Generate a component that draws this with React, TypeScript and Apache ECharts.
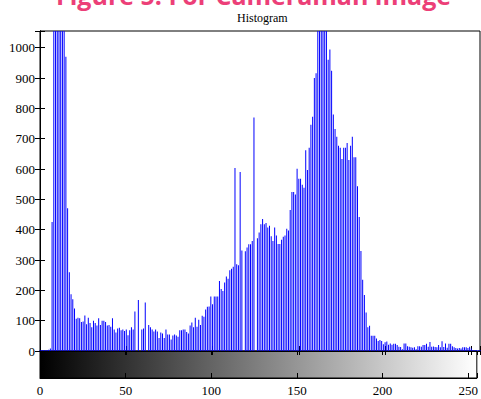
import React, { useEffect, useRef } from "react";
import * as echarts from "echarts";

// Gray-level histogram of the Cameraman image: pixel count per intensity 0..255
const grayLevels: number[] = Array.from({ length: 256 }, (_, i) => i);
const pixelCounts: number[] = [
  // 0-9
  3, 3, 3, 3, 3, 4, 8, 425, 1280, 1850,
  // 10-19
  2400, 2100, 1700, 1400, 1150, 970, 471, 260, 187, 171,
  // 20-29
  140, 106, 110, 108, 96, 97, 117, 88, 110, 92,
  // 30-39
  78, 100, 92, 84, 108, 86, 100, 100, 96, 84,
  // 40-49
  86, 80, 108, 71, 61, 74, 77, 68, 71, 66,
  // 50-59
  71, 52, 68, 78, 71, 130, 0, 168, 0, 71,
  // 60-69
  74, 160, 0, 86, 78, 71, 64, 71, 64, 43,
  // 70-79
  61, 58, 43, 71, 54, 54, 38, 51, 54, 51,
  // 80-89
  47, 68, 68, 71, 71, 63, 58, 84, 94, 78,
  // 90-99
  110, 80, 103, 86, 116, 113, 137, 146, 147, 180,
  // 100-109
  154, 180, 180, 180, 231, 204, 198, 226, 246, 238,
  // 110-119
  266, 271, 278, 603, 286, 283, 590, 331, 0, 329,
  // 120-129
  341, 352, 352, 363, 770, 0, 372, 391, 418, 435,
  // 130-139
  418, 422, 407, 413, 378, 363, 407, 381, 353, 353,
  // 140-149
  367, 377, 381, 403, 397, 465, 524, 524, 516, 601,
  // 150-159
  568, 568, 548, 538, 662, 597, 670, 746, 772, 900,
  // 160-169
  916, 1120, 1240, 1300, 1210, 1150, 1080, 960, 994, 924,
  // 170-179
  780, 732, 706, 677, 670, 633, 670, 670, 686, 630,
  // 180-189
  677, 706, 639, 639, 543, 442, 330, 235, 185, 127,
  // 190-199
  78, 83, 50, 50, 50, 41, 33, 36, 33, 22,
  // 200-209
  29, 31, 21, 25, 21, 24, 24, 20, 14, 13,
  // 210-219
  6, 25, 25, 16, 14, 12, 11, 12, 6, 16,
  // 220-229
  16, 14, 20, 20, 24, 14, 30, 14, 15, 13,
  // 230-239
  12, 20, 12, 32, 13, 25, 11, 24, 24, 16,
  // 240-249
  12, 10, 8, 10, 8, 12, 12, 12, 10, 14,
  // 250-255
  8, 3, 3, 3, 3, 3,
];

const xTickStep = 50;
const yTickStep = 100;
const xMax = 255;
const yMax = 1055;

const chartTitle = "Figure 5. For Cameraman image";
const plotTitle = "Histogram";

const serif = "'Liberation Serif', 'Times New Roman', serif";

export default function App() {
  const ref = useRef<HTMLDivElement>(null);

  useEffect(() => {
    if (!ref.current) return;
    const chart = echarts.init(ref.current, undefined, { renderer: "svg" });

    const data = grayLevels.map((g, i) => [g, pixelCounts[i]]);

    const tickStyle = { color: "#000", width: 1 };
    const hiddenLabel = { show: false };

    chart.setOption({
      animation: false,
      backgroundColor: "#fff",
      title: [
        {
          text: chartTitle,
          left: 51,
          top: -23,
          textStyle: {
            color: "#ec3f78",
            fontSize: 25,
            fontWeight: "bold",
            fontFamily: "'Open Sans', sans-serif",
          },
        },
        {
          text: plotTitle,
          left: 232,
          top: 7,
          textStyle: {
            color: "#000",
            fontSize: 12,
            fontWeight: "normal",
            fontFamily: serif,
          },
        },
      ],
      grid: [
        {
          left: 40,
          right: 1,
          top: 31,
          height: 320,
          show: true,
          borderColor: "#000",
          borderWidth: 1,
          backgroundColor: "#fff",
        },
        {
          left: 40,
          right: 1,
          top: 351,
          height: 27,
          show: true,
          borderColor: "#000",
          borderWidth: 1,
          backgroundColor: new echarts.graphic.LinearGradient(0, 0, 1, 0, [
            { offset: 0, color: "#000" },
            { offset: 1, color: "#fff" },
          ]),
        },
      ],
      xAxis: [
        {
          gridIndex: 0,
          type: "value",
          min: 0,
          max: xMax,
          interval: xTickStep,
          position: "bottom",
          axisLine: { show: true, lineStyle: tickStyle },
          axisTick: { show: true, inside: true, length: 5, lineStyle: tickStyle },
          axisLabel: hiddenLabel,
          splitLine: { show: false },
        },
        {
          gridIndex: 0,
          type: "value",
          min: 0,
          max: xMax,
          interval: xTickStep,
          position: "top",
          axisLine: { show: true, lineStyle: tickStyle },
          axisTick: { show: true, inside: true, length: 4, lineStyle: tickStyle },
          axisLabel: hiddenLabel,
          splitLine: { show: false },
        },
        {
          gridIndex: 1,
          type: "value",
          min: 0,
          max: xMax,
          interval: xTickStep,
          position: "bottom",
          axisLine: { show: true, lineStyle: tickStyle },
          axisTick: { show: true, inside: true, length: 5, lineStyle: tickStyle },
          axisLabel: {
            show: true,
            margin: 6,
            color: "#000",
            fontSize: 13,
            fontFamily: serif,
            formatter: (v: number) => (v % xTickStep === 0 ? String(v) : ""),
          },
          splitLine: { show: false },
        },
        {
          gridIndex: 1,
          type: "value",
          min: 0,
          max: xMax,
          interval: xTickStep,
          position: "top",
          axisLine: { show: true, lineStyle: tickStyle },
          axisTick: { show: true, inside: true, length: 4, lineStyle: tickStyle },
          axisLabel: hiddenLabel,
          splitLine: { show: false },
        },
      ],
      yAxis: [
        {
          gridIndex: 0,
          type: "value",
          min: 0,
          max: yMax,
          interval: yTickStep,
          position: "left",
          axisLine: { show: true, lineStyle: tickStyle },
          axisTick: { show: true, inside: true, length: 5, lineStyle: tickStyle },
          axisLabel: {
            show: true,
            margin: 5,
            color: "#000",
            fontSize: 13,
            fontFamily: serif,
            formatter: (v: number) => (v % yTickStep === 0 ? String(v) : ""),
          },
          splitLine: { show: false },
        },
        {
          gridIndex: 0,
          type: "value",
          min: 0,
          max: yMax,
          interval: yTickStep,
          position: "right",
          axisLine: { show: true, lineStyle: tickStyle },
          axisTick: { show: true, inside: true, length: 5, lineStyle: tickStyle },
          axisLabel: hiddenLabel,
          splitLine: { show: false },
        },
        {
          gridIndex: 1,
          type: "value",
          min: 0,
          max: 1,
          show: false,
        },
      ],
      series: [
        {
          type: "bar",
          xAxisIndex: 0,
          yAxisIndex: 0,
          data,
          barWidth: 1,
          clip: true,
          itemStyle: { color: "#0000ff" },
          emphasis: { disabled: true },
        },
      ],
    });

    return () => chart.dispose();
  }, []);

  return (
    <div
      ref={ref}
      style={{ position: "fixed", left: 0, top: 0, width: 481, height: 399 }}
    />
  );
}
